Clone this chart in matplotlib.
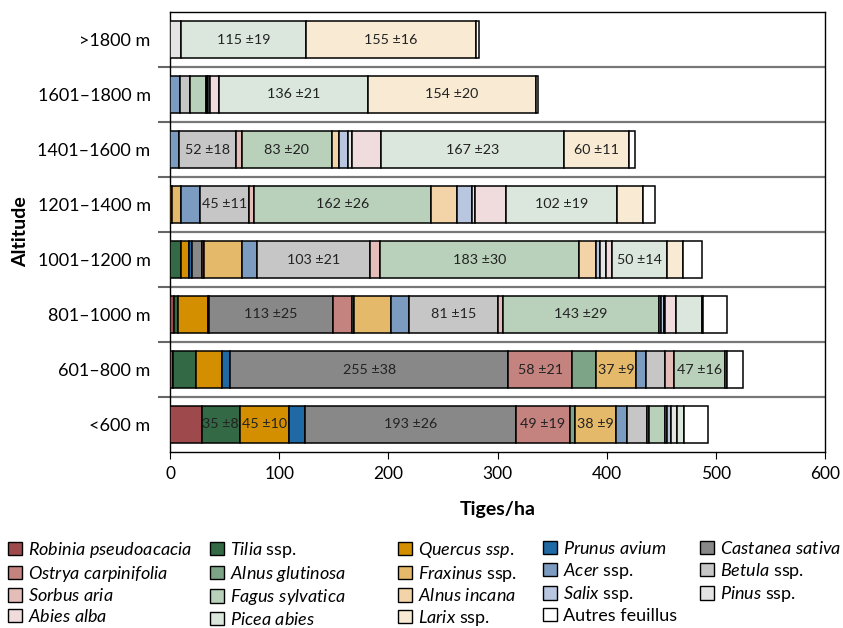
import numpy as np
import matplotlib
matplotlib.use("Agg")
import matplotlib.pyplot as plt
from matplotlib.patches import Patch
from matplotlib.ticker import FixedLocator

plt.rcParams['font.family'] = ['Lato', 'DejaVu Sans']
plt.rcParams['mathtext.fontset'] = 'custom'
plt.rcParams['mathtext.rm'] = 'Lato'
plt.rcParams['mathtext.it'] = 'Lato:italic'

# altitude classes, bottom to top
altitudes = ["<600 m", "601–800 m", "801–1000 m", "1001–1200 m",
             "1201–1400 m", "1401–1600 m", "1601–1800 m", ">1800 m"]

# species in stacking order
species = ["Robinia", "Tilia", "Quercus", "Prunus", "Castanea",
           "Ostrya", "AlnusG", "Fraxinus", "Acer", "Betula",
           "Sorbus", "Fagus", "AlnusI", "Salix", "Pinus",
           "Abies", "Picea", "Larix", "Autres"]

legend_labels = [r"$\it{Robinia\ pseudoacacia}$", r"$\it{Tilia}$ ssp.", r"$\it{Quercus\ ssp.}$",
                 r"$\it{Prunus\ avium}$", r"$\it{Castanea\ sativa}$",
                 r"$\it{Ostrya\ carpinifolia}$", r"$\it{Alnus\ glutinosa}$", r"$\it{Fraxinus}$ ssp.",
                 r"$\it{Acer}$ ssp.", r"$\it{Betula}$ ssp.",
                 r"$\it{Sorbus\ aria}$", r"$\it{Fagus\ sylvatica}$", r"$\it{Alnus\ incana}$",
                 r"$\it{Salix}$ ssp.", r"$\it{Pinus}$ ssp.",
                 r"$\it{Abies\ alba}$", r"$\it{Picea\ abies}$", r"$\it{Larix}$ ssp.",
                 "Autres feuillus"]

colors = ["#9e4a4c", "#336a45", "#d38f00", "#1f6aa5", "#888888",
          "#c4837f", "#7da487", "#e5b96a", "#7b9bc0", "#c6c6c6",
          "#e4bcb8", "#b9d1bb", "#f2d4a8", "#b8c6e0", "#e4e4e4",
          "#f0dcdc", "#dbe6dc", "#f8ead3", "#ffffff"]

# stems per ha, one list per altitude class (same order as species)
stems_lt600     = [29, 35, 45, 15, 193, 49, 5, 38, 10, 18, 2, 14, 2.5, 3, 5.5, 0, 7, 0, 22]
stems_601_800   = [3, 21, 23.5, 7.5, 255, 58, 22, 37, 9, 17.5, 8, 47, 0, 0, 0, 0, 2, 0, 14.5]
stems_801_1000  = [3.5, 4, 27, 1.5, 113, 18, 2, 33, 17, 81, 5, 143, 2, 2.5, 1, 10, 24, 1, 22]
stems_1001_1200 = [0, 10.5, 7, 2.5, 9, 2.5, 0, 34.5, 14, 103, 9, 183, 15, 4, 5, 6, 50, 15, 17]
stems_1201_1400 = [0, 0, 1.5, 0, 0, 0, 0, 9, 17, 45, 4.5, 162, 23.5, 14, 3, 28, 102, 24, 11]
stems_1401_1600 = [0, 0, 0, 0, 0, 0, 0, 0, 8.5, 52, 5, 83, 6, 9, 3, 27, 167, 60, 5]
stems_1601_1800 = [0, 0, 0, 0, 0, 0, 0, 0, 9.5, 9, 0, 14.5, 1, 1, 1.5, 8.5, 136, 154, 2]
stems_gt1800    = [0, 0, 0, 0, 0, 0, 0, 0, 0, 0, 0, 0, 0, 0, 10, 0, 115, 155, 3.5]

stems = np.array([stems_lt600, stems_601_800, stems_801_1000, stems_1001_1200,
                  stems_1201_1400, stems_1401_1600, stems_1601_1800, stems_gt1800])

# standard deviations printed inside segments: (altitude index, species, sd)
sd_labels = [(0, "Tilia", 8), (0, "Quercus", 10), (0, "Castanea", 26),
             (0, "Ostrya", 19), (0, "Fraxinus", 9),
             (1, "Castanea", 38), (1, "Ostrya", 21), (1, "Fraxinus", 9), (1, "Fagus", 16),
             (2, "Castanea", 25), (2, "Betula", 15), (2, "Fagus", 29),
             (3, "Betula", 21), (3, "Fagus", 30), (3, "Picea", 14),
             (4, "Betula", 11), (4, "Fagus", 26), (4, "Picea", 19),
             (5, "Betula", 18), (5, "Fagus", 20), (5, "Picea", 23), (5, "Larix", 11),
             (6, "Picea", 21), (6, "Larix", 20),
             (7, "Picea", 19), (7, "Larix", 16)]

fig = plt.figure(figsize=(8.43, 6.28), dpi=100)
ax = fig.add_axes([170 / 843, 1 - 452 / 628, 655 / 843, 440 / 628])

y = np.arange(len(altitudes))
left = np.zeros(len(altitudes))
for j, sp in enumerate(species):
    w = stems[:, j]
    mask = w > 0
    ax.barh(y[mask], w[mask], left=left[mask], height=0.68, color=colors[j],
            edgecolor="black", linewidth=1.1, zorder=3)
    left += w

starts = np.cumsum(stems, axis=1) - stems
for i, sp, sd in sd_labels:
    j = species.index(sp)
    val = stems[i, j]
    ax.text(starts[i, j] + val / 2, y[i], f"{val:.0f} ±{sd}", ha="center", va="center",
            fontsize=10.3, color="#222222", zorder=4)

ax.set_xlim(0, 600)
ax.set_ylim(-0.5, len(altitudes) - 0.5)
ax.set_xticks(np.arange(0, 601, 100))
ax.set_yticks(y)
ax.set_yticklabels(altitudes)
ax.yaxis.set_minor_locator(FixedLocator(np.arange(0.5, len(altitudes) - 1, 1)))
ax.tick_params(axis="y", which="major", length=0, pad=14, labelsize=13)
ax.tick_params(axis="y", which="minor", length=9, width=1.5, color="#666666")
ax.tick_params(axis="x", which="major", length=5, pad=5, labelsize=12.5)
ax.grid(axis="y", which="minor", color="#777777", linewidth=1.6, zorder=1)

for s in ax.spines.values():
    s.set_linewidth(1.0)

ax.set_xlabel("Tiges/ha", fontsize=14, fontweight="bold", labelpad=14)
ax.set_ylabel("Altitude", fontsize=14, fontweight="bold", labelpad=6)

# legend: five columns, filled top-down
handles = [Patch(facecolor=c, edgecolor="black", linewidth=1.0) for c in colors]
col_x = [8, 210, 398, 543, 700]
ncol = 5
for k, x0 in enumerate(col_x):
    idx = list(range(k, len(species), ncol))
    fig.legend([handles[i] for i in idx], [legend_labels[i] for i in idx],
               loc="upper left", bbox_to_anchor=(x0 / 843, 1 - 540 / 628),
               frameon=False, fontsize=13, borderpad=0, borderaxespad=0,
               handlelength=0.75, handleheight=0.75, handletextpad=0.35,
               labelspacing=0.2)

fig.savefig("out.png", dpi=100)
